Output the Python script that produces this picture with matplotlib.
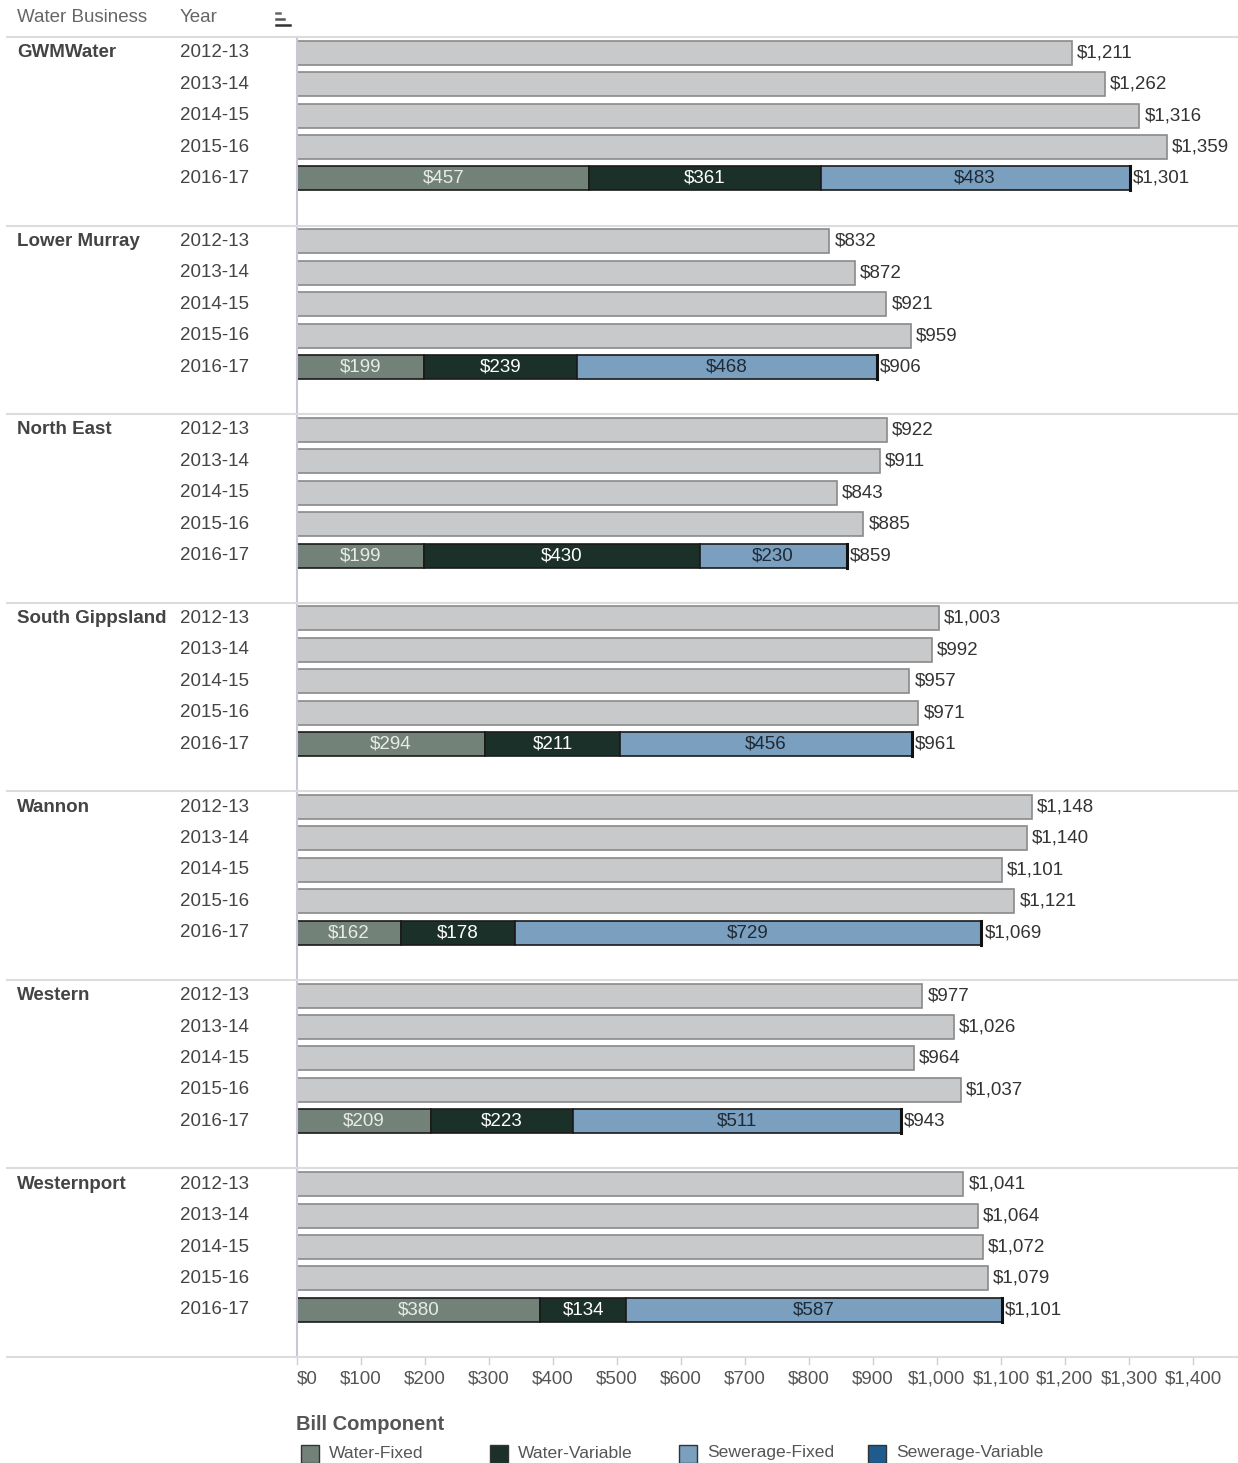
import matplotlib
matplotlib.use('Agg')
import matplotlib.pyplot as plt
import matplotlib.transforms as mtransforms
from matplotlib.lines import Line2D
from matplotlib.patches import Rectangle
import numpy as np

plt.rcParams['font.family'] = ['Liberation Sans', 'DejaVu Sans']

businesses = ['GWMWater', 'Lower Murray', 'North East', 'South Gippsland',
              'Wannon', 'Western', 'Westernport']
years = ['2012-13', '2013-14', '2014-15', '2015-16', '2016-17']

# total bills for 2012-13 .. 2015-16
totals_hist = [
    [1211, 1262, 1316, 1359],
    [832, 872, 921, 959],
    [922, 911, 843, 885],
    [1003, 992, 957, 971],
    [1148, 1140, 1101, 1121],
    [977, 1026, 964, 1037],
    [1041, 1064, 1072, 1079],
]
# 2016-17 components
water_fixed = [457, 199, 199, 294, 162, 209, 380]
water_variable = [361, 239, 430, 211, 178, 223, 134]
sewerage_fixed = [483, 468, 230, 456, 729, 511, 587]
sewerage_variable = [0, 0, 0, 0, 0, 0, 0]

components = ['Water-Fixed', 'Water-Variable', 'Sewerage-Fixed', 'Sewerage-Variable']
comp_colors = ['#738279', '#1b3028', '#7a9fbf', '#1f5b8e']
comp_text = ['#e8ece9', '#ffffff', '#1e2a36', '#ffffff']

W, H = 1238, 1463
fig = plt.figure(figsize=(W / 100, H / 100), dpi=100)
ax = fig.add_axes([297 / W, 1 - 1357 / H, 941 / W, 1320 / H])

slots = 6
nrows = len(businesses) * slots
ax.set_ylim(nrows, 0)
ax.set_xlim(0, 941 / 0.64)
bh = 0.76
fs = 13.5

for g, name in enumerate(businesses):
    base = g * slots
    for i, v in enumerate(totals_hist[g]):
        y = base + i + 0.5
        ax.barh(y, v, height=bh, color='#c8c9cb', edgecolor='#8a8a8a', linewidth=1.2)
        ax.text(v + 8, y, '${:,}'.format(v), va='center', ha='left', fontsize=fs, color='#333333')
    y = base + 4 + 0.5
    left = 0
    vals = [water_fixed[g], water_variable[g], sewerage_fixed[g], sewerage_variable[g]]
    for k, v in enumerate(vals):
        if v == 0:
            continue
        ax.barh(y, v, left=left, height=bh, color=comp_colors[k], edgecolor='#1a1a1a', linewidth=1.2)
        ax.text(left + v / 2, y, '${:,}'.format(v), va='center', ha='center', fontsize=fs, color=comp_text[k])
        left += v
    ax.plot([left, left], [y - bh / 2, y + bh / 2], color='#111111', lw=2.2)
    ax.text(left + 5, y, '${:,}'.format(left), va='center', ha='left', fontsize=fs, color='#333333')

# row labels and separators
trans = mtransforms.blended_transform_factory(fig.transFigure, ax.transData)
for g, name in enumerate(businesses):
    base = g * slots
    ax.text(17 / W, base + 0.5, name, transform=trans, fontsize=fs, fontweight='bold',
            color='#444444', va='center', ha='left')
    for i, yr in enumerate(years):
        ax.text(180 / W, base + i + 0.5, yr, transform=trans, fontsize=fs,
                color='#444444', va='center', ha='left')
for g in range(len(businesses) + 1):
    fig.add_artist(Line2D([7 / W, 1.0], [g * slots, g * slots], transform=trans,
                          color='#dcdcdc', lw=1.5))

# header
hy = 1 - 18 / H
fig.text(17 / W, hy, 'Water Business', fontsize=fs, color='#666666', va='center')
fig.text(180 / W, hy, 'Year', fontsize=fs, color='#666666', va='center')
for x0, x1, yy, c in [(276, 280, 13, '#666666'), (276, 284, 19, '#555555'), (276, 290, 25, '#333333')]:
    fig.add_artist(Line2D([x0 / W, x1 / W], [1 - yy / H, 1 - yy / H], color=c, lw=1.8))

# axis styling
for s in ['top', 'right', 'bottom']:
    ax.spines[s].set_visible(False)
ax.spines['left'].set_color('#c9c6dc')
ax.spines['left'].set_linewidth(1.5)
ax.set_yticks([])
ticks = np.arange(0, 1500, 100)
ax.set_xticks(ticks)
ax.set_xticklabels(['${:,}'.format(t) for t in ticks])
ax.tick_params(axis='x', length=6, color='#d0d0d0', width=1, pad=4,
               labelsize=fs, labelcolor='#555555')
ax.get_xticklabels()[0].set_horizontalalignment('left')

# legend
fig.text(296 / W, 1 - 1424 / H, 'Bill Component', fontsize=14.5, fontweight='bold',
         color='#555555', va='center')
for k, comp in enumerate(components):
    x0 = 301 + k * 189
    fig.add_artist(Rectangle((x0 / W, 0), 18 / W, 18 / H, transform=fig.transFigure,
                             facecolor=comp_colors[k], edgecolor='#333333', lw=1))
    fig.text((x0 + 28) / W, 1 - 1453 / H, comp, fontsize=12.6, color='#555555', va='center')

fig.savefig('out.png', dpi=100)
